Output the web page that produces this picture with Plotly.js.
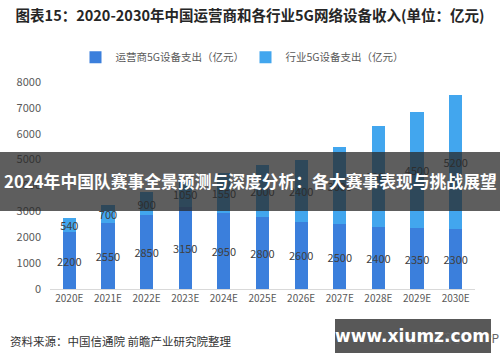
<!DOCTYPE html>
<html><head><meta charset="utf-8">
<script src="https://cdn.plot.ly/plotly-3.0.1.min.js"></script>
<style>html,body{margin:0;padding:0;background:#fff}#chart{width:500px;height:362px}</style>
</head><body><div id="chart"></div>
<script>
const categories = ['2020E','2021E','2022E','2023E','2024E','2025E','2026E','2027E','2028E','2029E','2030E'];
const operatorSpend = [2200,2550,2850,3150,2950,2800,2600,2500,2400,2350,2300];
const industrySpend = [540,700,900,1050,1550,2000,2400,3000,3900,4500,5200];
const yTicks = [0,1000,2000,3000,4000,5000,6000,7000,8000];
const seriesNames = ['运营商5G设备支出（亿元）','行业5G设备支出（亿元）'];
const titleText = '图表15：2020-2030年中国运营商和各行业5G网络设备收入(单位：亿元)';
const bannerText = '2024年中国队赛事全景预测与深度分析：各大赛事表现与挑战展望';
const sourceText = '资料来源：中国信通院 前瞻产业研究院整理';
const watermarkText = 'www.xiumz.com';

const FONT = 'Noto Sans CJK SC, Noto Sans, sans-serif';
const labelFont = {family: FONT, size: 11, color: '#404040'};
const traces = [
  {type:'bar', name: seriesNames[0], x: categories, y: operatorSpend,
   marker:{color:'#3b7fdc'}, text: operatorSpend.map(String), textposition:'inside',
   insidetextanchor:'middle', textangle:0, constraintext:'none', textfont: labelFont,
   hoverinfo:'none'},
  {type:'bar', name: seriesNames[1], x: categories, y: industrySpend,
   marker:{color:'#42a6ee'}, text: industrySpend.map(String), textposition:'inside',
   insidetextanchor:'middle', textangle:0, constraintext:'none', textfont: labelFont,
   hoverinfo:'none'}
];
const layout = {
  width:500, height:362, barmode:'stack', bargap:0.66,
  margin:{l:50, r:25, t:82, b:73},
  paper_bgcolor:'#fff', plot_bgcolor:'#fff',
  font:{family: FONT, color:'#595959'},
  title:{text: titleText, font:{family: FONT, size:14.5, color:'#262626', weight:'bold'},
         x:0.5, xanchor:'center', y:0.955, yanchor:'middle', xref:'container', yref:'container'},
  showlegend:true,
  legend:{orientation:'h', x:0.06, xanchor:'left', y:1.12, yanchor:'middle',
          font:{family: FONT, size:10.5, color:'#595959'}, itemwidth:30, traceorder:'normal',
          entrywidth:125, entrywidthmode:'pixels'},
  xaxis:{type:'category', showline:true, linecolor:'#d9d9d9', linewidth:1, ticks:'',
         tickfont:{family: FONT, size:10, color:'#595959'}, showgrid:false, fixedrange:true},
  yaxis:{range:[0,8000], tickvals: yTicks, showgrid:false, zeroline:false, showline:false,
         tickfont:{family: FONT, size:11, color:'#595959'}, ticklabelstandoff:8},
  shapes:[
    {type:'rect', xref:'paper', yref:'paper', x0:-0.12, x1:1.06, y0:0.377, y1:0.662,
     fillcolor:'rgba(40,40,40,0.75)', line:{width:0}, layer:'above'},
    {type:'rect', xref:'paper', yref:'paper', x0:0.6706, x1:1.0376, y0:-0.309, y1:-0.145,
     fillcolor:'#585858', line:{width:0}, layer:'above'}
  ],
  annotations:[
    {text: bannerText, xref:'paper', yref:'paper', x:0.4706, y:0.52, xanchor:'center', yanchor:'middle',
     showarrow:false, font:{family: FONT, size:16.8, color:'#ffffff', weight:'bold'}},
    {text: sourceText, xref:'paper', yref:'paper', x:-0.1, y:-0.252, xanchor:'left', yanchor:'middle',
     showarrow:false, font:{family: FONT, size:11.5, color:'#333333'}},
    {text: '© 前瞻经济学人APP', xref:'paper', yref:'paper', x:1.06, y:-0.232, xanchor:'right', yanchor:'middle',
     showarrow:false, font:{family: FONT, size:12, color:'#666666'}},
    {text: watermarkText, xref:'paper', yref:'paper', x:0.852, y:-0.227, xanchor:'center', yanchor:'middle',
     showarrow:false, font:{family: 'DejaVu Sans, sans-serif', size:17, color:'#ffffff', weight:'bold'}}
  ]
};
Plotly.newPlot('chart', traces, layout, {displayModeBar:false, staticPlot:true});
</script></body></html>
